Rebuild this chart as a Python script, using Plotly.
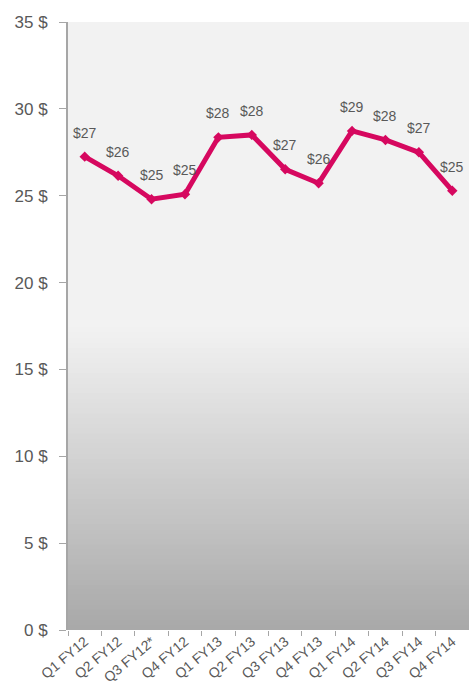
import plotly.graph_objects as go

LINE = "#D6085F"
TEXT = "#595959"
AXIS = "#A6A6A6"

quarters = ["Q1 FY12", "Q2 FY12", "Q3 FY12*", "Q4 FY12",
            "Q1 FY13", "Q2 FY13", "Q3 FY13", "Q4 FY13",
            "Q1 FY14", "Q2 FY14", "Q3 FY14", "Q4 FY14"]
values = [27.25, 26.15, 24.8, 25.08, 28.36, 28.5, 26.52, 25.72, 28.73, 28.21, 27.5, 25.29]
labels = ["$27", "$26", "$25", "$25", "$28", "$28", "$27", "$26", "$29", "$28", "$27", "$25"]
y_ticks = [0, 5, 10, 15, 20, 25, 30, 35]
y_ticktext = [f"{v} $" for v in y_ticks]

fig = go.Figure()
fig.add_trace(go.Scatter(
    x=quarters, y=values, mode="lines+markers",
    line=dict(color=LINE, width=5),
    marker=dict(symbol="diamond", size=8, color=LINE),
    hoverinfo="skip", showlegend=False,
))

# data labels sit a bit above each point
for q, v, t in zip(quarters, values, labels):
    fig.add_annotation(x=q, y=v, text=t, showarrow=False, yshift=24,
                       font=dict(size=14, color=TEXT))

# gradient background: flat light grey on top, darker toward zero
top_grad = 17.4
n = 60
c_top, c_bot = 242, 168
shapes = []
for i in range(n):
    y0 = top_grad * i / n
    y1 = top_grad * (i + 1) / n
    c = round(c_bot + (c_top - c_bot) * (i + 0.5) / n)
    shapes.append(dict(type="rect", xref="paper", yref="y", x0=0, x1=1, y0=y0, y1=y1 + 0.05,
                       fillcolor=f"rgb({c},{c},{c})", line=dict(width=0), layer="below"))

fig.update_layout(
    width=469, height=693,
    margin=dict(l=68, r=0, t=22, b=63),
    paper_bgcolor="white",
    plot_bgcolor="#F2F2F2",
    font=dict(family="Liberation Sans, Arial, sans-serif", color=TEXT),
    shapes=shapes,
    xaxis=dict(
        type="category", range=[-0.5, 11.5], tickson="boundaries",
        ticks="outside", ticklen=5, tickcolor=AXIS, tickangle=-40,
        tickfont=dict(size=14, color=TEXT), showgrid=False, showline=False,
        zeroline=False, automargin=False,
    ),
    yaxis=dict(
        range=[0, 35], tickvals=y_ticks, ticktext=y_ticktext,
        ticks="outside", ticklen=7, tickcolor=AXIS, showline=True, linecolor=AXIS,
        linewidth=2, tickfont=dict(size=17, color=TEXT), showgrid=False,
        zeroline=False, ticklabelstandoff=8, automargin=False,
    ),
)

fig.write_html("out.html", config={"displayModeBar": False},
               post_script="document.body.style.margin='0';")
